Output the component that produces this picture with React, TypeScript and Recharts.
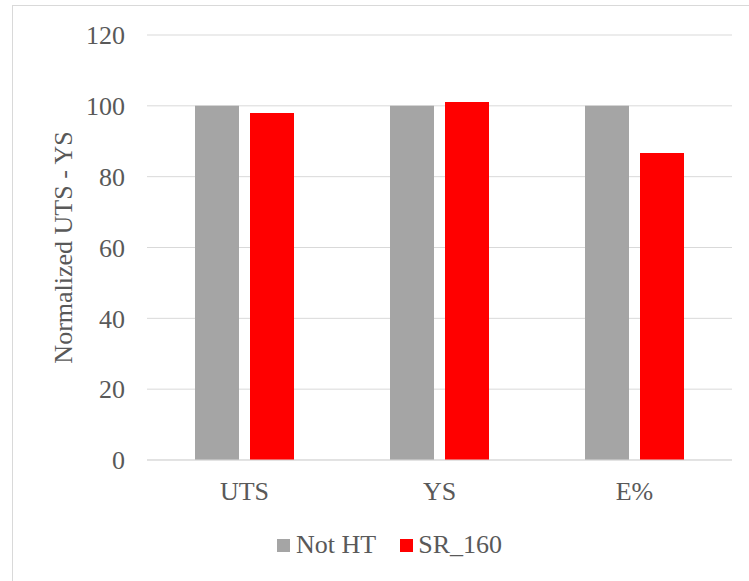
import React from 'react';
import { BarChart, Bar, XAxis, YAxis, CartesianGrid, Legend, Label } from 'recharts';

// Normalized mechanical properties, as-built vs. stress relieved at 160
const categories = ['UTS', 'YS', 'E%'];
const notHT = [100, 100, 100];
const sr160 = [98.0, 101.1, 86.7];
const yTicks = [0, 20, 40, 60, 80, 100, 120];

const seriesNames = ['Not HT', 'SR_160'];
const seriesColors = ['#A5A5A5', '#FF0000'];

const data = categories.map((name, i) => ({ name, notHT: notHT[i], sr160: sr160[i] }));

const FONT = "'Liberation Serif', 'Times New Roman', serif";
const TEXT = '#595959';
const GRID = '#D9D9D9';

const LegendContent = () => (
  <div style={{ display: 'flex', alignItems: 'center', paddingLeft: 277, fontFamily: FONT, fontSize: 26, color: TEXT, height: 30 }}>
    {seriesNames.map((n, i) => (
      <div key={n} style={{ display: 'flex', alignItems: 'center', marginRight: i === 0 ? 24 : 0 }}>
        <span style={{ display: 'inline-block', width: 13, height: 13, background: seriesColors[i], marginRight: i === 0 ? 6 : 5 }} />
        <span style={{ whiteSpace: 'nowrap', lineHeight: '30px' }}>{n}</span>
      </div>
    ))}
  </div>
);

const YTitle = (props: any) => {
  const vb = props.viewBox || { x: 0, y: 0, width: 0, height: 0 };
  const cx = vb.x + 72;
  const cy = vb.y + vb.height / 2;
  return (
    <text
      x={cx}
      y={cy}
      transform={`rotate(-90, ${cx}, ${cy})`}
      textAnchor="middle"
      fill={TEXT}
      fontFamily={FONT}
      fontSize={26}
    >
      Normalized UTS - YS
    </text>
  );
};

export default function App() {
  return (
    <div style={{ position: 'fixed', left: 0, top: 0, width: 749, height: 581, overflow: 'hidden', background: '#fff' }}>
      <div style={{ position: 'absolute', left: 12, top: 5, width: 800, height: 700, border: `1px solid ${GRID}`, boxSizing: 'border-box' }} />
      <BarChart
        width={749}
        height={581}
        data={data}
        margin={{ top: 35, right: 17, left: 0, bottom: 0 }}
        barSize={44}
        barGap={11}
        style={{ position: 'absolute', left: 0, top: 0 }}
      >
        <CartesianGrid vertical={false} stroke={GRID} strokeWidth={1} />
        <XAxis
          dataKey="name"
          height={121}
          axisLine={{ stroke: GRID }}
          tickLine={false}
          tickSize={0}
          tickMargin={22}
          tick={{ fill: TEXT, fontFamily: FONT, fontSize: 26 }}
        />
        <YAxis
          width={147}
          domain={[0, 120]}
          ticks={yTicks}
          axisLine={false}
          tickLine={false}
          tickSize={0}
          tickMargin={22}
          tick={{ fill: TEXT, fontFamily: FONT, fontSize: 26 }}
        >
          <Label content={<YTitle />} />
        </YAxis>
        <Legend
          layout="horizontal"
          verticalAlign="middle"
          align="center"
          wrapperStyle={{ left: 0, top: 530, width: 749 }}
          content={<LegendContent />}
        />
        <Bar dataKey="notHT" name={seriesNames[0]} fill={seriesColors[0]} isAnimationActive={false} />
        <Bar dataKey="sr160" name={seriesNames[1]} fill={seriesColors[1]} isAnimationActive={false} />
      </BarChart>
    </div>
  );
}
